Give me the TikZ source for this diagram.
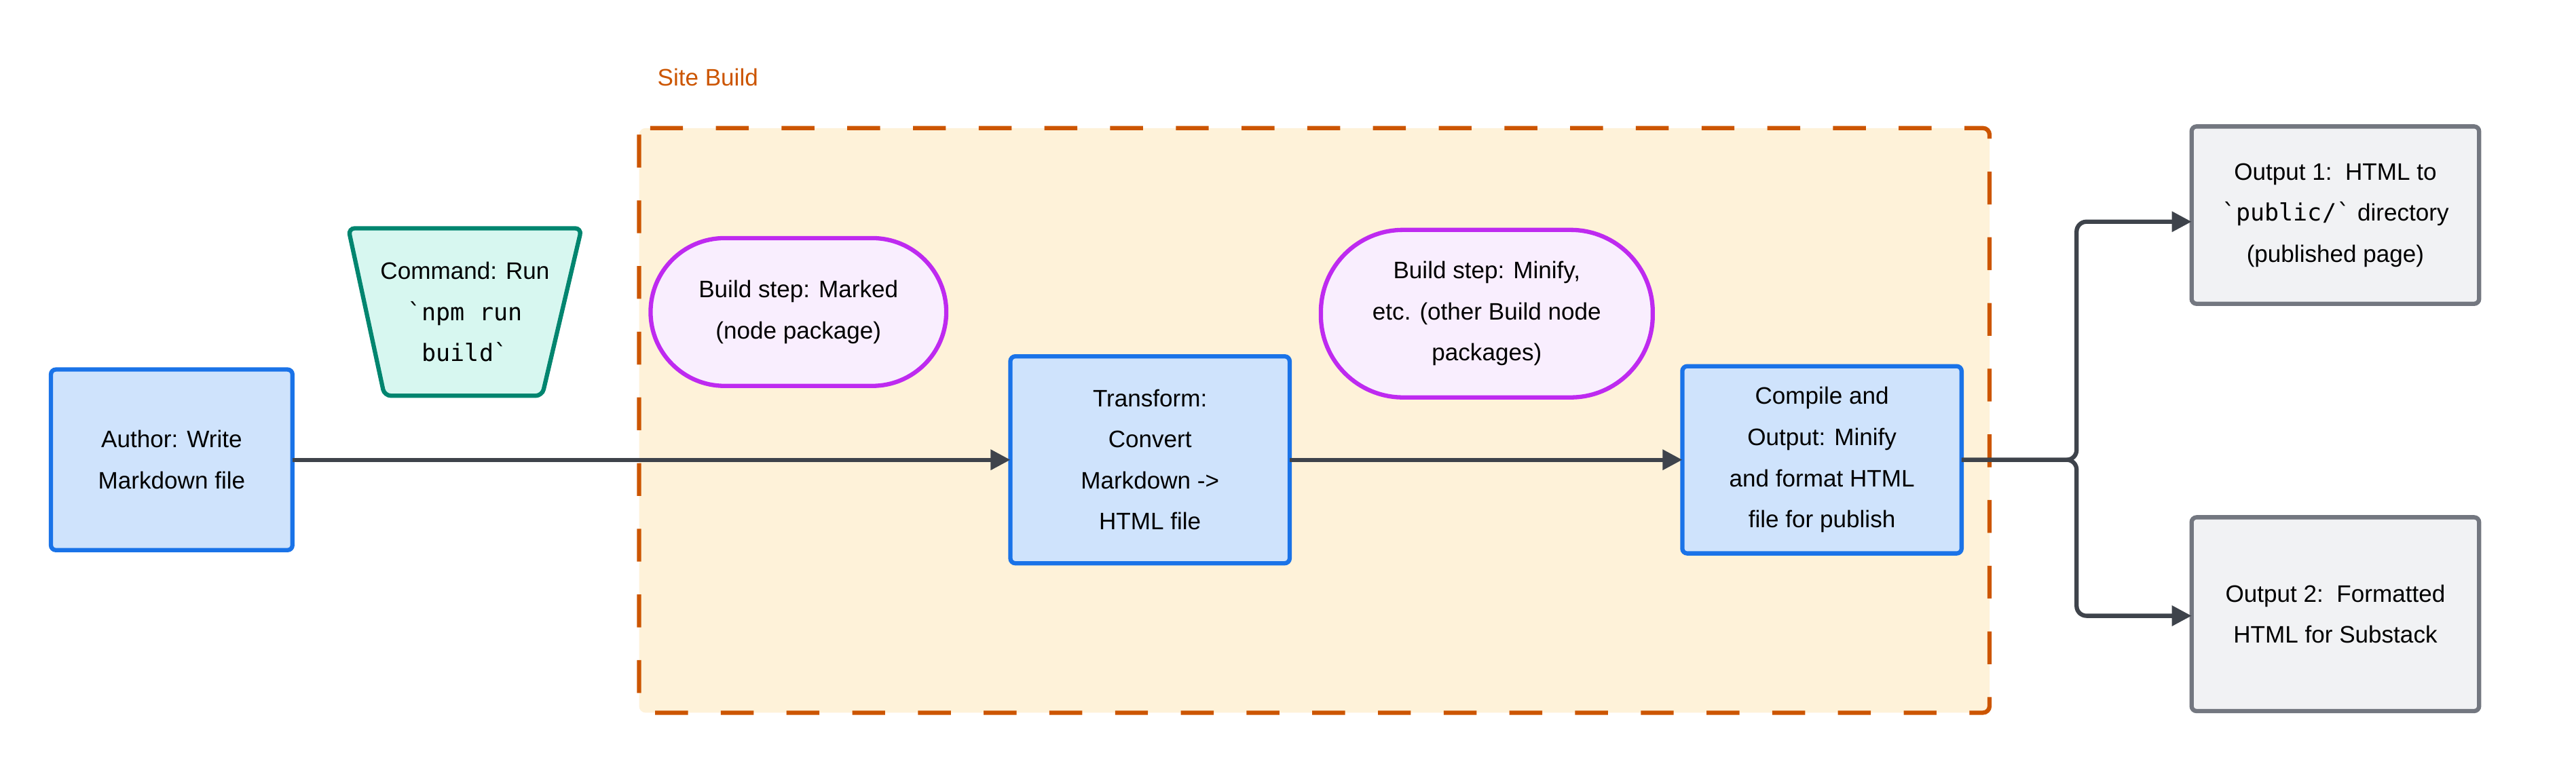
\documentclass[tikz,border=0pt]{standalone}
\usepackage{fontspec}
\setmainfont{Liberation Sans}
\setmonofont{DejaVu Sans Mono}
\usetikzlibrary{arrows.meta}
\definecolor{bfill}{HTML}{CFE3FC}\definecolor{bline}{HTML}{1A73E8}
\definecolor{tfill}{HTML}{D7F7F0}\definecolor{tline}{HTML}{00856F}
\definecolor{pfill}{HTML}{F9EEFE}\definecolor{pline}{HTML}{BE2AF0}
\definecolor{cfill}{HTML}{FEF2D9}\definecolor{cline}{HTML}{CC5500}
\definecolor{gfill}{HTML}{F1F2F4}\definecolor{gline}{HTML}{737780}
\definecolor{aline}{HTML}{3E434B}
\begin{document}
\begin{tikzpicture}[x=1pt,y=-1pt,
 every node/.style={font=\fontsize{14.5}{25}\selectfont, align=center, inner sep=0pt},
 blue/.style={draw=bline, fill=bfill, line width=2.6pt, rounded corners=3pt},
 gray/.style={draw=gline, fill=gfill, line width=2.6pt, rounded corners=3pt},
 purp/.style={draw=pline, fill=pfill, line width=2.6pt},
 arr/.style={draw=aline, line width=2.6pt, -{Triangle[length=12pt,width=12pt]}, rounded corners=6pt}]
\useasboundingbox (0,0) rectangle (1568,465);
% cluster
\draw[fill=cfill, draw=cline, line width=2.6pt, dash pattern=on 20pt off 20pt, rounded corners=4pt] (389,78) rectangle (1211,434);
\node[text=cline, anchor=west] (sb) at (400,47) {Site Build};
% author
\draw[blue] (31,225) rectangle (178,335);
\node (author) at (104.5,280) {Author: Write\\Markdown file};
\coordinate (authorE) at (178,280);
% command trapezoid
\draw[draw=tline, fill=tfill, line width=2.6pt, rounded corners=4pt] (212,139) -- (354,139) -- (330,241) -- (234,241) -- cycle;
\node (cmd) at (283,190) {Command: Run\\\texttt{`npm run}\\\texttt{build`}};
% marked
\draw[purp, rounded corners=45pt] (396,145) rectangle (576,235);
\node (marked) at (486,190) {Build step: Marked\\(node package)};
% transform
\draw[blue] (615,217) rectangle (785,343);
\node (trans) at (700,280) {Transform:\\Convert\\Markdown ->\\HTML file};
\coordinate (transW) at (615,280); \coordinate (transE) at (785,280);
% minify
\draw[purp, rounded corners=50pt] (804,140) rectangle (1006,242);
\node (minify) at (905,191) {Build step: Minify,\\etc. (other Build node\\packages)};
% compile
\draw[blue] (1024,223) rectangle (1194,337);
\node (comp) at (1109,280) {Compile and\\Output: Minify\\and format HTML\\file for publish};
\coordinate (compW) at (1024,280); \coordinate (compE) at (1194,280);
% outputs
\draw[gray] (1334,77) rectangle (1509,185);
\node (o1) at (1421.5,131) {Output 1:~~HTML to\\\texttt{`public/`} directory\\(published page)};
\coordinate (o1W) at (1334,135);
\draw[gray] (1334,315) rectangle (1509,433);
\node (o2) at (1421.5,374) {Output 2:~~Formatted\\HTML for Substack};
\coordinate (o2W) at (1334,375);
% connectors
\draw[arr] (authorE) -- (transW);
\draw[arr] (transE) -- (compW);
\draw[arr] (compE) -- (1264,280) -- (1264,135) -- (o1W);
\draw[arr] (compE) -- (1264,280) -- (1264,375) -- (o2W);
\end{tikzpicture}
\end{document}
